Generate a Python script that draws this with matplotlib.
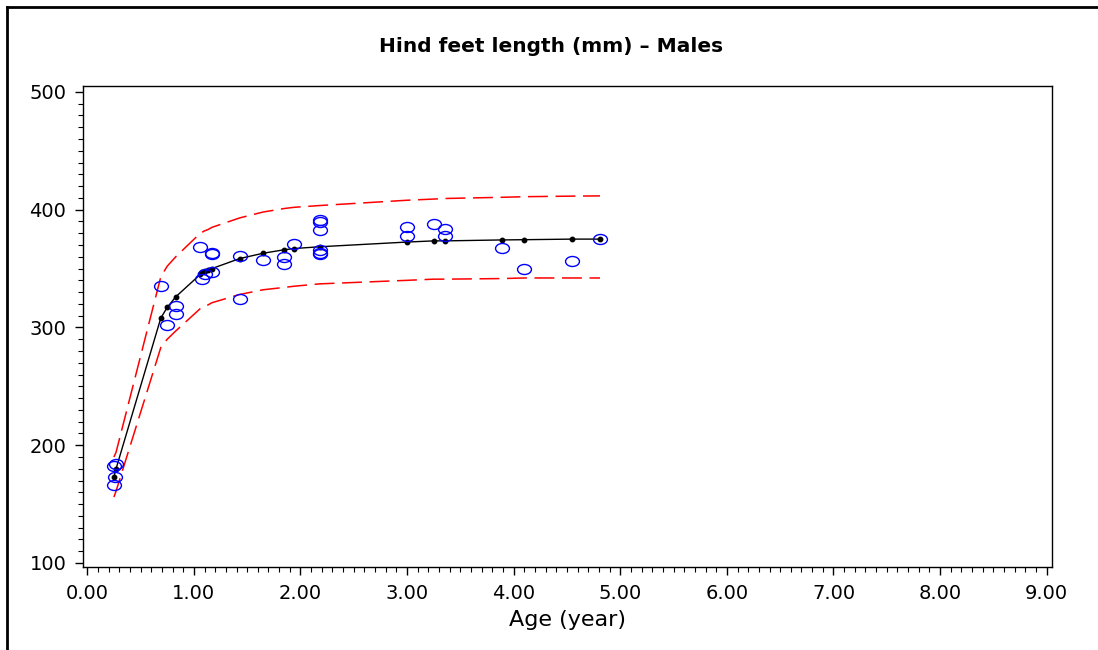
import numpy as np
import matplotlib
matplotlib.use('Agg')
from matplotlib import pyplot as plt
from matplotlib.path import Path
from matplotlib.lines import Line2D
from matplotlib.ticker import MultipleLocator, FormatStrFormatter

# fitted growth curve with its prediction limits
fit_age = [0.25, 0.27, 0.69, 0.75, 0.83, 1.06, 1.08, 1.10, 1.13, 1.17, 1.43,
           1.65, 1.85, 1.94, 2.18, 3.00, 3.25, 3.36, 3.89, 4.10, 4.55, 4.81]
fit_len = [173, 180, 308, 317, 326, 345, 347, 347.5, 348.5, 350, 358.5,
           363, 366, 367, 368.5, 372.5, 373.5, 373.5, 374.3, 374.5, 375, 375]
lower = [156, 161, 283, 290, 297, 316, 317, 318, 319, 321, 328,
         332, 334, 335, 337, 340, 341, 341, 341.5, 342, 342, 342]
upper = [190, 194, 343, 352, 360, 380, 381, 382, 383, 385, 393,
         398, 401, 402, 403.5, 408, 409, 409.5, 410.5, 411, 411.5, 411.7]

# measured animals
obs_age = [0.25, 0.27, 0.26, 0.25, 0.69, 0.75, 0.83, 0.83, 1.06, 1.08, 1.10,
           1.17, 1.17, 1.17, 1.43, 1.43, 1.65, 1.85, 1.85, 1.94,
           2.18, 2.18, 2.18, 2.18, 2.18, 2.18, 3.00, 3.00, 3.25, 3.36, 3.36,
           3.89, 4.10, 4.55, 4.81]
obs_len = [182, 184, 173, 166, 335, 302, 318, 311, 368, 341, 345,
           363.5, 362, 347, 361, 324, 357, 360, 354, 370.5,
           391, 389.5, 383, 365.5, 363.5, 362, 385.5, 377.5, 388, 384, 377.5,
           367.5, 350, 356, 375.5]

plt.rcParams['font.family'] = ['DejaVu Sans']

fig = plt.figure(figsize=(10.98, 6.5), dpi=100)
ax = fig.add_axes([83 / 1098, 1 - 567 / 650, (1052 - 83) / 1098, (567 - 86) / 650])

# open ellipse marker, a bit flatter than a circle
circ = Path.unit_circle()
ell = Path(circ.vertices * np.array([1.0, 0.72]), circ.codes)

ax.plot(fit_age, upper, color='red', lw=1.1, dashes=(13, 5))
ax.plot(fit_age, lower, color='red', lw=1.1, dashes=(13, 5))
ax.plot(fit_age, fit_len, color='black', lw=1.0, marker='o', ms=3.2,
        markerfacecolor='black', markeredgecolor='black')
ax.plot(obs_age, obs_len, ls='none', marker=ell, ms=10, markerfacecolor='none',
        markeredgecolor='#0000ff', markeredgewidth=1.0)

ax.set_xlim(-0.04, 9.05)
ax.set_ylim(96.6, 505)
ax.xaxis.set_major_locator(MultipleLocator(1))
ax.xaxis.set_minor_locator(MultipleLocator(0.1))
ax.yaxis.set_major_locator(MultipleLocator(100))
ax.yaxis.set_minor_locator(MultipleLocator(10))
ax.xaxis.set_major_formatter(FormatStrFormatter('%.2f'))
ax.tick_params(which='major', length=6, width=1, labelsize=14, pad=6)
ax.tick_params(which='minor', length=3.5, width=0.8)
for s in ax.spines.values():
    s.set_linewidth(1.0)

ax.set_xlabel('Age (year)', fontsize=16, labelpad=5)
fig.text(0.502, 1 - 47 / 650, 'Hind feet length (mm) \u2013 Males', ha='center', va='center',
         fontsize=14.5, fontweight='bold')

# outer frame on the left and top edges
fig.add_artist(Line2D([7 / 1098, 7 / 1098], [0, 1 - 7 / 650], transform=fig.transFigure,
                      color='black', lw=2))
fig.add_artist(Line2D([7 / 1098, 1], [1 - 7 / 650, 1 - 7 / 650], transform=fig.transFigure,
                      color='black', lw=2))

fig.savefig('out.png', dpi=100)
